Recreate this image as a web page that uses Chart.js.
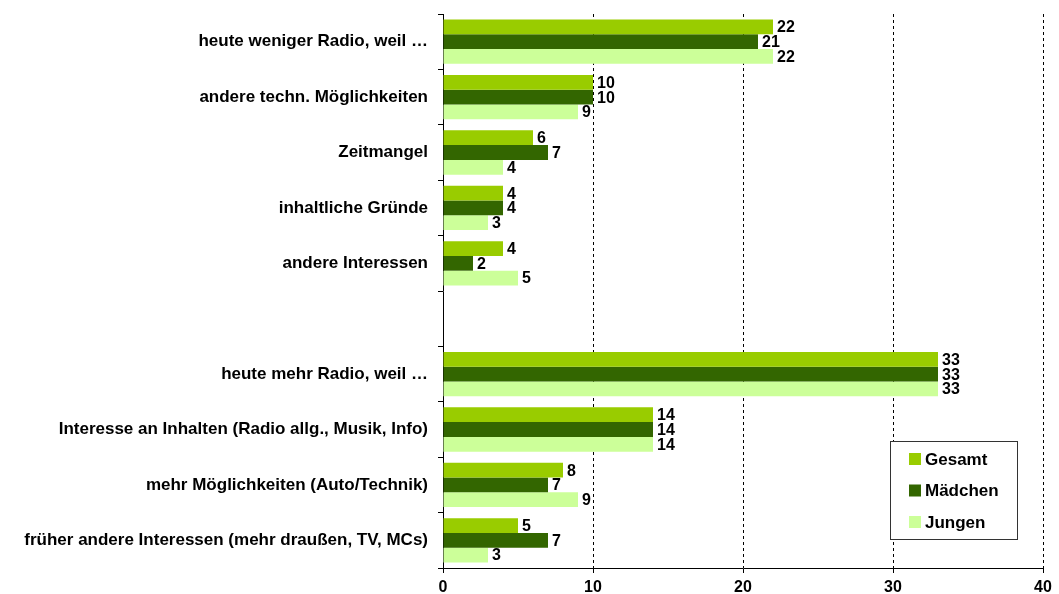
<!DOCTYPE html>
<html>
<head>
<meta charset="utf-8">
<script src="https://cdn.jsdelivr.net/npm/chart.js@4/dist/chart.umd.min.js"></script>
<style>
  html, body { margin: 0; padding: 0; background: #fff; }
  #wrap { width: 1059px; height: 594px; }
</style>
</head>
<body>
<div id="wrap"><canvas id="chart" width="1059" height="594"></canvas></div>
<script>
// categories (empty entry = gap between the two blocks)
const categories = [
  'heute weniger Radio, weil …',
  'andere techn. Möglichkeiten',
  'Zeitmangel',
  'inhaltliche Gründe',
  'andere Interessen',
  '',
  'heute mehr Radio, weil …',
  'Interesse an Inhalten (Radio allg., Musik, Info)',
  'mehr Möglichkeiten (Auto/Technik)',
  'früher andere Interessen (mehr draußen, TV, MCs)'
];
const gesamt  = [22, 10, 6, 4, 4, null, 33, 14, 8, 5];
const maedchen = [21, 10, 7, 4, 2, null, 33, 14, 7, 7];
const jungen  = [22, 9, 4, 3, 5, null, 33, 14, 9, 3];
const seriesNames = ['Gesamt', 'Mädchen', 'Jungen'];
const xTicks = [0, 10, 20, 30, 40];

const FONT = 'Arial, "Liberation Sans", sans-serif';
const colors = ['#99cc00', '#336600', '#ccff99'];

// value labels next to bar ends
const valueLabels = {
  id: 'valueLabels',
  afterDatasetsDraw(chart) {
    const ctx = chart.ctx;
    ctx.save();
    ctx.font = 'bold 16px ' + FONT;
    ctx.fillStyle = '#000';
    ctx.textBaseline = 'middle';
    ctx.textAlign = 'left';
    chart.data.datasets.forEach((ds, i) => {
      chart.getDatasetMeta(i).data.forEach((bar, j) => {
        const v = ds.data[j];
        if (v == null) return;
        ctx.fillText(String(v), bar.x + 4, bar.y + 1);
      });
    });
    ctx.restore();
  }
};

// boxed legend inside the plot, bottom right
const boxLegend = {
  id: 'boxLegend',
  afterDraw(chart) {
    const ctx = chart.ctx;
    const a = chart.chartArea;
    const w = 127, h = 98;
    const x = a.right - 26 - w, y = a.bottom - 29 - h;
    ctx.save();
    ctx.fillStyle = '#fff';
    ctx.fillRect(x, y, w, h);
    ctx.strokeStyle = '#333';
    ctx.lineWidth = 1;
    ctx.strokeRect(x + 0.5, y + 0.5, w, h);
    ctx.font = 'bold 17px ' + FONT;
    ctx.textBaseline = 'middle';
    chart.data.datasets.forEach((ds, i) => {
      const cy = y + 18 + i * 31.5;
      ctx.fillStyle = ds.backgroundColor;
      ctx.fillRect(x + 19, cy - 6, 12, 12);
      ctx.fillStyle = '#000';
      ctx.fillText(ds.label, x + 35, cy + 1);
    });
    ctx.restore();
  }
};

new Chart(document.getElementById('chart'), {
  type: 'bar',
  data: {
    labels: categories,
    datasets: [
      { label: seriesNames[0], data: gesamt, backgroundColor: colors[0] },
      { label: seriesNames[1], data: maedchen, backgroundColor: colors[1] },
      { label: seriesNames[2], data: jungen, backgroundColor: colors[2] }
    ]
  },
  options: {
    indexAxis: 'y',
    responsive: false,
    animation: false,
    layout: { padding: { top: 14, right: 16, left: 0, bottom: 0 } },
    datasets: { bar: { categoryPercentage: 0.8, barPercentage: 1.0, borderWidth: 0 } },
    plugins: { legend: { display: false }, tooltip: { enabled: false } },
    scales: {
      x: {
        min: 0, max: 40,
        afterBuildTicks: s => { s.ticks = xTicks.map(v => ({ value: v })); },
        afterFit: s => { s.height = 26; },
        border: { display: true, color: '#000', width: 1, dash: [3, 3] },
        grid: {
          color: c => (c.tick && c.tick.value === 0) ? 'rgba(0,0,0,0)' : '#000',
          tickColor: '#000',
          tickLength: 5,
          tickBorderDash: [],
          lineWidth: 1
        },
        ticks: {
          color: '#000',
          padding: 5,
          font: { family: FONT, size: 16, weight: 'bold' }
        }
      },
      y: {
        afterFit: s => { s.width = 443; s.paddingTop = 0; s.paddingBottom = 0; },
        border: { display: true, color: '#000', width: 1 },
        grid: {
          drawOnChartArea: false,
          color: '#000',
          tickLength: 5,
          offset: true
        },
        ticks: {
          color: '#000',
          padding: 10,
          autoSkip: false,
          font: { family: FONT, size: 17, weight: 'bold' }
        }
      }
    }
  },
  plugins: [valueLabels, boxLegend]
});
</script>
</body>
</html>
